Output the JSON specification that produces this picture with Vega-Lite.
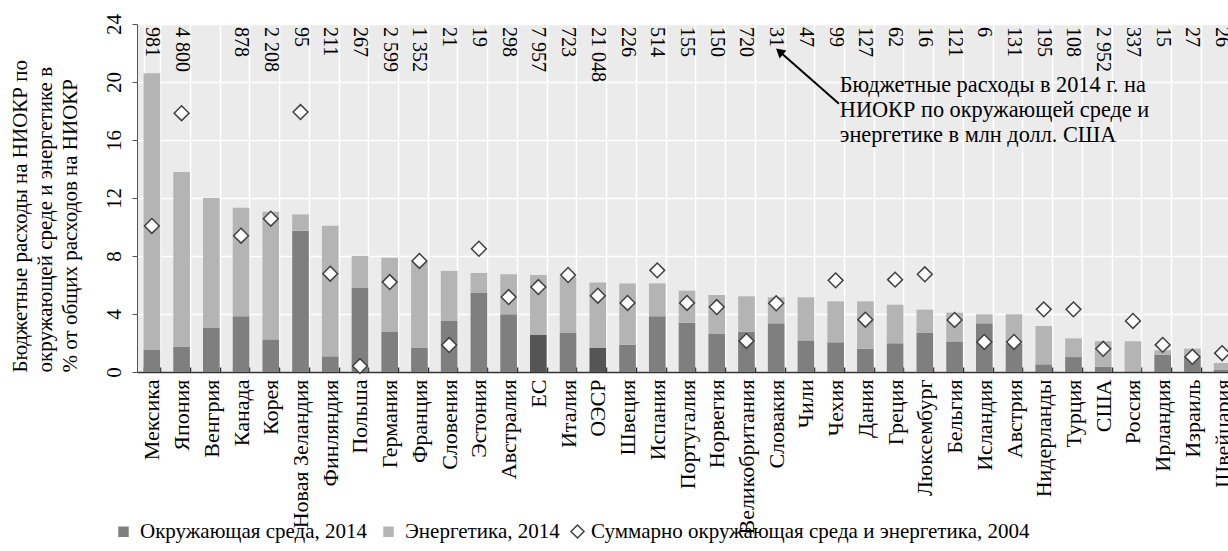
{
  "$schema": "https://vega.github.io/schema/vega-lite/v6.json",
  "width": 1100,
  "height": 348,
  "autosize": {"type": "none"},
  "padding": {"left": 137, "top": 24, "right": 0, "bottom": 179},
  "background": "white",
  "config": {
    "font": "Liberation Serif",
    "view": {"fill": "#ebebeb", "stroke": null},
    "axis": {"labelFont": "Liberation Serif", "titleFont": "Liberation Serif", "labelColor": "#000", "titleColor": "#000", "titleFontWeight": "normal"},
    "legend": {"labelFont": "Liberation Serif", "labelFontSize": 21, "labelColor": "#000", "padding": 0, "offset": 0, "labelLimit": 0}
  },
  "datasets": {
    "bars": [
      {"c": "Мексика", "part": "Окружающая среда, 2014", "ord": 0, "v": 1.52},
      {"c": "Мексика", "part": "Энергетика, 2014", "ord": 1, "v": 19.08},
      {"c": "Япония", "part": "Окружающая среда, 2014", "ord": 0, "v": 1.75},
      {"c": "Япония", "part": "Энергетика, 2014", "ord": 1, "v": 12.05},
      {"c": "Венгрия", "part": "Окружающая среда, 2014", "ord": 0, "v": 3.06},
      {"c": "Венгрия", "part": "Энергетика, 2014", "ord": 1, "v": 8.94},
      {"c": "Канада", "part": "Окружающая среда, 2014", "ord": 0, "v": 3.84},
      {"c": "Канада", "part": "Энергетика, 2014", "ord": 1, "v": 7.49},
      {"c": "Корея", "part": "Окружающая среда, 2014", "ord": 0, "v": 2.25},
      {"c": "Корея", "part": "Энергетика, 2014", "ord": 1, "v": 8.8},
      {"c": "Новая Зеландия", "part": "Окружающая среда, 2014", "ord": 0, "v": 9.75},
      {"c": "Новая Зеландия", "part": "Энергетика, 2014", "ord": 1, "v": 1.12},
      {"c": "Финляндия", "part": "Окружающая среда, 2014", "ord": 0, "v": 1.08},
      {"c": "Финляндия", "part": "Энергетика, 2014", "ord": 1, "v": 9.01},
      {"c": "Польша", "part": "Окружающая среда, 2014", "ord": 0, "v": 5.82},
      {"c": "Польша", "part": "Энергетика, 2014", "ord": 1, "v": 2.18},
      {"c": "Германия", "part": "Окружающая среда, 2014", "ord": 0, "v": 2.76},
      {"c": "Германия", "part": "Энергетика, 2014", "ord": 1, "v": 5.12},
      {"c": "Франция", "part": "Окружающая среда, 2014", "ord": 0, "v": 1.68},
      {"c": "Франция", "part": "Энергетика, 2014", "ord": 1, "v": 5.92},
      {"c": "Словения", "part": "Окружающая среда, 2014", "ord": 0, "v": 3.56},
      {"c": "Словения", "part": "Энергетика, 2014", "ord": 1, "v": 3.41},
      {"c": "Эстония", "part": "Окружающая среда, 2014", "ord": 0, "v": 5.45},
      {"c": "Эстония", "part": "Энергетика, 2014", "ord": 1, "v": 1.38},
      {"c": "Австралия", "part": "Окружающая среда, 2014", "ord": 0, "v": 3.98},
      {"c": "Австралия", "part": "Энергетика, 2014", "ord": 1, "v": 2.76},
      {"c": "ЕС", "part": "агрегат", "ord": 0, "v": 2.55},
      {"c": "ЕС", "part": "Энергетика, 2014", "ord": 1, "v": 4.14},
      {"c": "Италия", "part": "Окружающая среда, 2014", "ord": 0, "v": 2.69},
      {"c": "Италия", "part": "Энергетика, 2014", "ord": 1, "v": 3.86},
      {"c": "ОЭСР", "part": "агрегат", "ord": 0, "v": 1.68},
      {"c": "ОЭСР", "part": "Энергетика, 2014", "ord": 1, "v": 4.5},
      {"c": "Швеция", "part": "Окружающая среда, 2014", "ord": 0, "v": 1.89},
      {"c": "Швеция", "part": "Энергетика, 2014", "ord": 1, "v": 4.22},
      {"c": "Испания", "part": "Окружающая среда, 2014", "ord": 0, "v": 3.84},
      {"c": "Испания", "part": "Энергетика, 2014", "ord": 1, "v": 2.27},
      {"c": "Португалия", "part": "Окружающая среда, 2014", "ord": 0, "v": 3.4},
      {"c": "Португалия", "part": "Энергетика, 2014", "ord": 1, "v": 2.21},
      {"c": "Норвегия", "part": "Окружающая среда, 2014", "ord": 0, "v": 2.62},
      {"c": "Норвегия", "part": "Энергетика, 2014", "ord": 1, "v": 2.69},
      {"c": "Великобритания", "part": "Окружающая среда, 2014", "ord": 0, "v": 2.78},
      {"c": "Великобритания", "part": "Энергетика, 2014", "ord": 1, "v": 2.44},
      {"c": "Словакия", "part": "Окружающая среда, 2014", "ord": 0, "v": 3.36},
      {"c": "Словакия", "part": "Энергетика, 2014", "ord": 1, "v": 1.79},
      {"c": "Чили", "part": "Окружающая среда, 2014", "ord": 0, "v": 2.18},
      {"c": "Чили", "part": "Энергетика, 2014", "ord": 1, "v": 2.97},
      {"c": "Чехия", "part": "Окружающая среда, 2014", "ord": 0, "v": 2.05},
      {"c": "Чехия", "part": "Энергетика, 2014", "ord": 1, "v": 2.82},
      {"c": "Дания", "part": "Окружающая среда, 2014", "ord": 0, "v": 1.61},
      {"c": "Дания", "part": "Энергетика, 2014", "ord": 1, "v": 3.26},
      {"c": "Греция", "part": "Окружающая среда, 2014", "ord": 0, "v": 1.98},
      {"c": "Греция", "part": "Энергетика, 2014", "ord": 1, "v": 2.66},
      {"c": "Люксембург", "part": "Окружающая среда, 2014", "ord": 0, "v": 2.69},
      {"c": "Люксембург", "part": "Энергетика, 2014", "ord": 1, "v": 1.61},
      {"c": "Бельгия", "part": "Окружающая среда, 2014", "ord": 0, "v": 2.11},
      {"c": "Бельгия", "part": "Энергетика, 2014", "ord": 1, "v": 1.98},
      {"c": "Исландия", "part": "Окружающая среда, 2014", "ord": 0, "v": 3.36},
      {"c": "Исландия", "part": "Энергетика, 2014", "ord": 1, "v": 0.62},
      {"c": "Австрия", "part": "Окружающая среда, 2014", "ord": 0, "v": 1.95},
      {"c": "Австрия", "part": "Энергетика, 2014", "ord": 1, "v": 2.03},
      {"c": "Нидерланды", "part": "Окружающая среда, 2014", "ord": 0, "v": 0.53},
      {"c": "Нидерланды", "part": "Энергетика, 2014", "ord": 1, "v": 2.64},
      {"c": "Турция", "part": "Окружающая среда, 2014", "ord": 0, "v": 1.03},
      {"c": "Турция", "part": "Энергетика, 2014", "ord": 1, "v": 1.29},
      {"c": "США", "part": "Окружающая среда, 2014", "ord": 0, "v": 0.37},
      {"c": "США", "part": "Энергетика, 2014", "ord": 1, "v": 1.75},
      {"c": "Россия", "part": "Окружающая среда, 2014", "ord": 0, "v": 0.05},
      {"c": "Россия", "part": "Энергетика, 2014", "ord": 1, "v": 2.07},
      {"c": "Ирландия", "part": "Окружающая среда, 2014", "ord": 0, "v": 1.2},
      {"c": "Ирландия", "part": "Энергетика, 2014", "ord": 1, "v": 0.3},
      {"c": "Израиль", "part": "Окружающая среда, 2014", "ord": 0, "v": 1.05},
      {"c": "Израиль", "part": "Энергетика, 2014", "ord": 1, "v": 0.56},
      {"c": "Швейцария", "part": "Окружающая среда, 2014", "ord": 0, "v": 0.14},
      {"c": "Швейцария", "part": "Энергетика, 2014", "ord": 1, "v": 0.48}
    ],
    "d2004": [
      {"c": "Мексика", "v": 10.07}, {"c": "Япония", "v": 17.85}, {"c": "Канада", "v": 9.4},
      {"c": "Корея", "v": 10.57}, {"c": "Новая Зеландия", "v": 17.93}, {"c": "Финляндия", "v": 6.78},
      {"c": "Польша", "v": 0.41}, {"c": "Германия", "v": 6.2}, {"c": "Франция", "v": 7.66},
      {"c": "Словения", "v": 1.86}, {"c": "Эстония", "v": 8.5}, {"c": "Австралия", "v": 5.17},
      {"c": "ЕС", "v": 5.86}, {"c": "Италия", "v": 6.69}, {"c": "ОЭСР", "v": 5.26},
      {"c": "Швеция", "v": 4.76}, {"c": "Испания", "v": 7.01}, {"c": "Португалия", "v": 4.76},
      {"c": "Норвегия", "v": 4.48}, {"c": "Великобритания", "v": 2.14}, {"c": "Словакия", "v": 4.74},
      {"c": "Чехия", "v": 6.32}, {"c": "Дания", "v": 3.61}, {"c": "Греция", "v": 6.37},
      {"c": "Люксембург", "v": 6.74}, {"c": "Бельгия", "v": 3.59}, {"c": "Исландия", "v": 2.07},
      {"c": "Австрия", "v": 2.07}, {"c": "Нидерланды", "v": 4.32}, {"c": "Турция", "v": 4.32},
      {"c": "США", "v": 1.6}, {"c": "Россия", "v": 3.52}, {"c": "Ирландия", "v": 1.87},
      {"c": "Израиль", "v": 1.05}, {"c": "Швейцария", "v": 1.3}
    ],
    "usd": [
      {"c": "Мексика", "t": "981"}, {"c": "Япония", "t": "4 800"}, {"c": "Канада", "t": "878"},
      {"c": "Корея", "t": "2 208"}, {"c": "Новая Зеландия", "t": "95"}, {"c": "Финляндия", "t": "211"},
      {"c": "Польша", "t": "267"}, {"c": "Германия", "t": "2 599"}, {"c": "Франция", "t": "1 352"},
      {"c": "Словения", "t": "21"}, {"c": "Эстония", "t": "19"}, {"c": "Австралия", "t": "298"},
      {"c": "ЕС", "t": "7 957"}, {"c": "Италия", "t": "723"}, {"c": "ОЭСР", "t": "21 048"},
      {"c": "Швеция", "t": "226"}, {"c": "Испания", "t": "514"}, {"c": "Португалия", "t": "155"},
      {"c": "Норвегия", "t": "150"}, {"c": "Великобритания", "t": "720"}, {"c": "Словакия", "t": "31"},
      {"c": "Чили", "t": "47"}, {"c": "Чехия", "t": "99"}, {"c": "Дания", "t": "127"},
      {"c": "Греция", "t": "62"}, {"c": "Люксембург", "t": "16"}, {"c": "Бельгия", "t": "121"},
      {"c": "Исландия", "t": "6"}, {"c": "Австрия", "t": "131"}, {"c": "Нидерланды", "t": "195"},
      {"c": "Турция", "t": "108"}, {"c": "США", "t": "2 952"}, {"c": "Россия", "t": "337"},
      {"c": "Ирландия", "t": "15"}, {"c": "Израиль", "t": "27"}, {"c": "Швейцария", "t": "26"}
    ],
    "arrow": [
      {"c": "Словакия", "v": 22.1},
      {"c": "Чехия", "v": 18.5}
    ],
    "note": [
      {"c": "Чехия", "v": 20.55, "t": "Бюджетные расходы в 2014 г. на\nНИОКР по окружающей среде и\nэнергетике в млн долл. США"}
    ]
  },
  "layer": [
    {
      "data": {"name": "bars"},
      "mark": {"type": "bar"},
      "encoding": {
        "x": {
          "field": "c", "type": "nominal", "sort": null,
          "scale": {
            "domain": ["Мексика", "Япония", "Венгрия", "Канада", "Корея", "Новая Зеландия", "Финляндия", "Польша", "Германия", "Франция", "Словения", "Эстония", "Австралия", "ЕС", "Италия", "ОЭСР", "Швеция", "Испания", "Португалия", "Норвегия", "Великобритания", "Словакия", "Чили", "Чехия", "Дания", "Греция", "Люксембург", "Бельгия", "Исландия", "Австрия", "Нидерланды", "Турция", "США", "Россия", "Ирландия", "Израиль", "Швейцария"],
            "paddingInner": 0.44, "paddingOuter": 0.22
          },
          "axis": {
            "title": null, "labelAngle": -90, "labelAlign": "right", "labelBaseline": "middle",
            "labelFontSize": 22, "labelPadding": 12, "labelLimit": 0,
            "tickBand": "extent", "tickSize": -5, "tickColor": "#333", "tickWidth": 1.5,
            "domainColor": "#333", "domainWidth": 1.5,
            "grid": true, "gridColor": "white", "gridWidth": 1.5
          }
        },
        "y": {
          "field": "v", "type": "quantitative", "stack": "zero",
          "scale": {"domain": [0, 24], "nice": false},
          "axis": {
            "values": [0, 4, 8, 12, 16, 20, 24],
            "grid": true, "gridColor": "white", "gridWidth": 1.5,
            "domainColor": "#555", "tickColor": "#555", "tickSize": 5,
            "labelAngle": -90, "labelAlign": "center", "labelBaseline": "middle",
            "labelPadding": 18, "labelFontSize": 21,
            "title": ["Бюджетные расходы на НИОКР по", "окружающей среде и энергетике в", "% от общих расходов на НИОКР"],
            "titleFontSize": 21, "titleAngle": -90, "titleAlign": "left", "titleBaseline": "top",
            "titleX": -128, "titleY": 348, "titleLineHeight": 25
          }
        },
        "color": {
          "field": "part", "type": "nominal",
          "scale": {"domain": ["Окружающая среда, 2014", "Энергетика, 2014", "агрегат"], "range": ["#7f7f7f", "#b4b4b4", "#555555"]},
          "legend": {
            "title": null, "orient": "none", "direction": "horizontal",
            "values": ["Окружающая среда, 2014", "Энергетика, 2014"],
            "legendX": -24, "legendY": 497,
            "symbolType": "square", "symbolSize": 110, "symbolStrokeWidth": 0,
            "labelOffset": 6, "columnPadding": 10
          }
        },
        "order": {"field": "ord", "type": "quantitative"}
      }
    },
    {
      "data": {"name": "usd"},
      "mark": {"type": "text", "angle": 90, "align": "left", "baseline": "middle", "dx": 3, "fontSize": 20, "color": "#000"},
      "encoding": {
        "x": {"field": "c", "type": "nominal", "sort": null},
        "y": {"datum": 24, "type": "quantitative"},
        "text": {"field": "t"}
      }
    },
    {
      "data": {"name": "d2004"},
      "mark": {"type": "point", "filled": true, "fill": "white", "stroke": "#404040", "strokeWidth": 1.5, "size": 220, "opacity": 1},
      "encoding": {
        "x": {"field": "c", "type": "nominal", "sort": null},
        "y": {"field": "v", "type": "quantitative"},
        "shape": {
          "datum": "Суммарно окружающая среда и энергетика, 2004",
          "scale": {"range": ["diamond"]},
          "legend": {
            "title": null, "orient": "none", "legendX": 430, "legendY": 497,
            "symbolSize": 170, "labelOffset": 3,
            "encode": {
              "symbols": {
                "update": {
                  "fill": {"value": "white"},
                  "stroke": {"value": "#222"},
                  "strokeWidth": {"value": 1.5},
                  "opacity": {"value": 1}
                }
              }
            }
          }
        }
      }
    },
    {
      "data": {"name": "arrow"},
      "mark": {"type": "line", "color": "black", "strokeWidth": 2},
      "encoding": {
        "x": {"field": "c", "type": "nominal", "sort": null, "bandPosition": 0.7},
        "y": {"field": "v", "type": "quantitative"}
      }
    },
    {
      "data": {"name": "arrow"},
      "transform": [{"filter": "datum.c == 'Словакия'"}],
      "mark": {"type": "point", "shape": "triangle-up", "angle": 311, "filled": true, "color": "black", "size": 110, "opacity": 1},
      "encoding": {
        "x": {"field": "c", "type": "nominal", "sort": null, "bandPosition": 0.7},
        "y": {"field": "v", "type": "quantitative"}
      }
    },
    {
      "data": {"name": "note"},
      "mark": {"type": "text", "align": "left", "baseline": "top", "fontSize": 22.3, "lineHeight": 25, "lineBreak": "\n", "color": "#000"},
      "encoding": {
        "x": {"field": "c", "type": "nominal", "sort": null, "bandPosition": 0.75},
        "y": {"field": "v", "type": "quantitative"},
        "text": {"field": "t"}
      }
    }
  ]
}
